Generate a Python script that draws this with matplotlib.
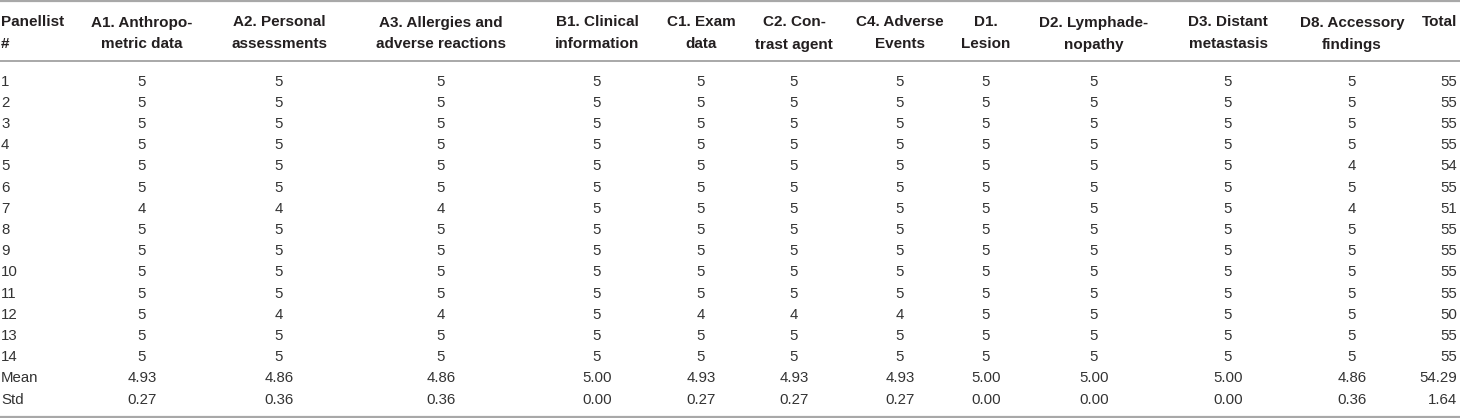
import matplotlib as mpl
import matplotlib.pyplot as plt

mpl.rcParams["font.family"] = ["Liberation Sans", "DejaVu Sans"]

# Table content
headers = [
    ("Panellist", "#"),
    ("A1. Anthropo-", "metric data"),
    ("A2. Personal", "assessments"),
    ("A3. Allergies and", "adverse reactions"),
    ("B1. Clinical", "information"),
    ("C1. Exam", "data"),
    ("C2. Con-", "trast agent"),
    ("C4. Adverse", "Events"),
    ("D1.", "Lesion"),
    ("D2. Lymphade-", "nopathy"),
    ("D3. Distant", "metastasis"),
    ("D8. Accessory", "findings"),
    ("Total", ""),
]

panellists = [str(i) for i in range(1, 15)]

scores = [
    [5, 5, 5, 5, 5, 5, 5, 5, 5, 5, 5],
    [5, 5, 5, 5, 5, 5, 5, 5, 5, 5, 5],
    [5, 5, 5, 5, 5, 5, 5, 5, 5, 5, 5],
    [5, 5, 5, 5, 5, 5, 5, 5, 5, 5, 5],
    [5, 5, 5, 5, 5, 5, 5, 5, 5, 5, 4],
    [5, 5, 5, 5, 5, 5, 5, 5, 5, 5, 5],
    [4, 4, 4, 5, 5, 5, 5, 5, 5, 5, 4],
    [5, 5, 5, 5, 5, 5, 5, 5, 5, 5, 5],
    [5, 5, 5, 5, 5, 5, 5, 5, 5, 5, 5],
    [5, 5, 5, 5, 5, 5, 5, 5, 5, 5, 5],
    [5, 5, 5, 5, 5, 5, 5, 5, 5, 5, 5],
    [5, 4, 4, 5, 4, 4, 4, 5, 5, 5, 5],
    [5, 5, 5, 5, 5, 5, 5, 5, 5, 5, 5],
    [5, 5, 5, 5, 5, 5, 5, 5, 5, 5, 5],
]
totals = [55, 55, 55, 55, 54, 55, 51, 55, 55, 55, 55, 50, 55, 55]

mean_row = ["4.93", "4.86", "4.86", "5.00", "4.93", "4.93", "4.93",
            "5.00", "5.00", "5.00", "4.86", "54.29"]
std_row = ["0.27", "0.36", "0.36", "0.00", "0.27", "0.27", "0.27",
           "0.00", "0.00", "0.00", "0.36", "1.64"]

# Layout (pixel coordinates)
W, H = 1460, 418
col_x = [1, 142, 279, 441, 597, 701, 794, 900, 986, 1094, 1228, 1352, 1457]
col_ha = ["left"] + ["center"] * 11 + ["right"]
row0, row_step = 85.5, 21.2
txt_color = "#333333"
line_color = "#a8a8a8"

fig = plt.figure(figsize=(W / 100, H / 100), dpi=100)
ax = fig.add_axes([0, 0, 1, 1])
ax.set_xlim(0, W)
ax.set_ylim(H, 0)
ax.axis("off")

# rules
for y, lw in [(1.2, 1.6), (61, 1.4), (416.5, 1.6)]:
    ax.axhline(y, color=line_color, lw=lw)

# header
for j, (l1, l2) in enumerate(headers):
    ax.text(col_x[j], 26.5, l1, ha=col_ha[j], va="baseline", fontsize=11,
            fontweight="bold", color="#231f20")
    if l2:
        ax.text(col_x[j], 48.5, l2, ha=col_ha[j], va="baseline", fontsize=11,
                fontweight="bold", color="#231f20")

# body
body = []
for i, p in enumerate(panellists):
    body.append([p] + [str(v) for v in scores[i]] + [str(totals[i])])
body.append(["Mean"] + mean_row)
body.append(["Std"] + std_row)

for i, row in enumerate(body):
    y = row0 + row_step * i
    for j, val in enumerate(row):
        ax.text(col_x[j], y, val, ha=col_ha[j], va="baseline", fontsize=10.8,
                color=txt_color)

fig.savefig("out.png", dpi=100)
